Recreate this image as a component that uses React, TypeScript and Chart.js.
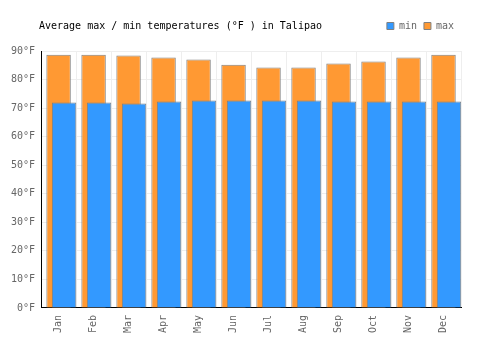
import React, { useEffect, useRef } from "react";
import { Chart, registerables } from "chart.js";

Chart.register(...registerables);

const TITLE = "Average max / min temperatures (°F ) in Talipao";
const months = ["Jan", "Feb", "Mar", "Apr", "May", "Jun", "Jul", "Aug", "Sep", "Oct", "Nov", "Dec"];
const maxTemps = [88.7, 88.7, 88.4, 87.7, 87.0, 85.2, 84.2, 84.2, 85.6, 86.3, 87.7, 88.7];
const minTemps = [72.0, 72.0, 71.6, 72.3, 72.7, 72.7, 72.7, 72.7, 72.3, 72.3, 72.3, 72.3];
const yMin = 0;
const yMax = 90;
const yStep = 10;

const FONT = '"DejaVu Sans Mono", monospace';

const titlePlugin = {
  id: "leftTitle",
  beforeInit(chart: any) {
    const legend = chart.legend;
    if (legend) {
      const fit = legend.fit;
      legend.fit = function () {
        fit.call(this);
        this.height += 10;
      };
    }
  },
  afterDraw(chart: any) {
    const ctx = chart.ctx;
    ctx.save();
    ctx.font = `10px ${FONT}`;
    ctx.fillStyle = "#000";
    ctx.textAlign = "left";
    ctx.textBaseline = "middle";
    ctx.fillText(TITLE, 39, 26);
    ctx.restore();
  },
};

const barShape = { categoryPercentage: 0.471, barPercentage: 4.45 };

export default function App() {
  const ref = useRef<HTMLCanvasElement | null>(null);
  useEffect(() => {
    if (!ref.current) return;
    const chart = new Chart(ref.current, {
      type: "bar",
      data: {
        labels: months,
        datasets: [
          { label: "", data: [], stack: "left", ...barShape },
          { label: "", data: [], stack: "maxSlot", ...barShape },
          { label: "min", data: minTemps, stack: "minSlot", backgroundColor: "#3399ff", borderColor: "#808080", borderWidth: 1, ...barShape },
          { label: "max", data: maxTemps, stack: "maxSlot", backgroundColor: "#ff9933", borderColor: "#808080", borderWidth: 1, ...barShape },
        ],
      },
      options: {
        responsive: false,
        animation: false,
        layout: { padding: { left: 5, right: 39, top: 14, bottom: 10 } },
        plugins: {
          tooltip: { enabled: false },
          legend: {
            position: "top",
            align: "end",
            labels: {
              filter: (item: any) => item.text !== "",
              boxWidth: 7,
              boxHeight: 7,
              padding: 7,
              color: "#666",
              font: { family: FONT, size: 10 },
            },
          },
        },
        scales: {
          x: {
            type: "category",
            offset: true,
            grid: { offset: true, color: "#eeeeee", drawTicks: false },
            border: { color: "#000", width: 1 },
            ticks: { color: "#666", font: { family: FONT, size: 10 }, minRotation: 90, maxRotation: 90, padding: 7 },
          },
          y: {
            min: yMin,
            max: yMax,
            stacked: false,
            grid: { color: "#eeeeee", drawTicks: false },
            border: { color: "#000", width: 1 },
            ticks: { stepSize: yStep, color: "#666", font: { family: FONT, size: 10 }, padding: 6, callback: (v: any) => `${v}°F` },
          },
        },
      },
      plugins: [titlePlugin],
    } as any);
    return () => chart.destroy();
  }, []);
  return (
    <div style={{ position: "absolute", left: 0, top: 0, width: 500, height: 350 }}>
      <canvas ref={ref} width={500} height={350} />
    </div>
  );
}
